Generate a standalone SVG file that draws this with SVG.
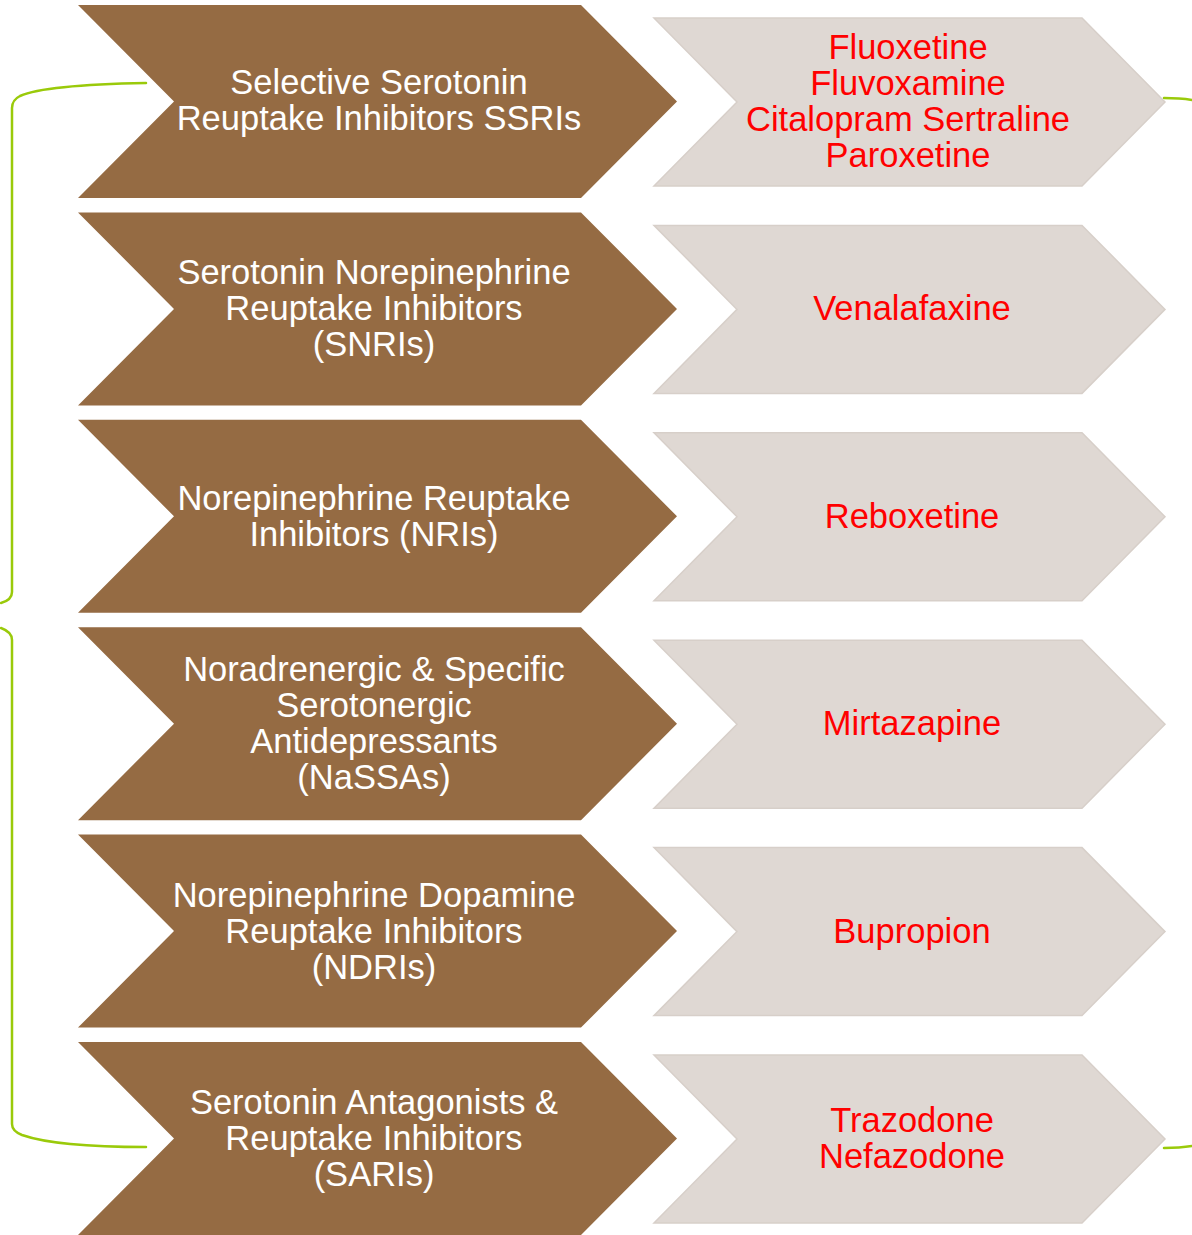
<svg xmlns="http://www.w3.org/2000/svg" width="1192" height="1235" viewBox="0 0 1192 1235">
  <defs>
    <style>
      .cls { fill: #956B43; }
      .drug { fill: #DFD8D3; stroke: #D7CFC9; stroke-width: 1.5; }
      .t { font-family: "Liberation Sans", Arial, sans-serif; font-size: 34.5px; text-anchor: middle; }
      .w { fill: #FFFFFF; }
      .r { fill: #FF0000; }
      .brace { fill: none; stroke: #9ACA0A; stroke-width: 2.5; stroke-linecap: round; }
    </style>
    <!-- chevron outlines, positioned per row with translate -->
    <polygon id="classShape" points="78,0 581,0 677,96.5 581,193 78,193 174,96.5"/>
    <polygon id="drugShape" points="654,13 1082,13 1165,97 1082,181 654,181 737,97"/>
  </defs>

  <!-- brackets -->
  <g id="connectors">
    <path class="brace" d="M146,83 C90,84 40,87 20,96 Q12,100 12,108 L12,592 Q12,600 1,603"/>
    <path class="brace" d="M1,628 Q12,632 12,640 L12,1124 Q12,1131 22,1135 C45,1143 90,1147 146,1147"/>
    <path class="brace" d="M1164,98 Q1180,98 1192,100"/>
    <path class="brace" d="M1164,1148 Q1180,1148 1192,1146"/>
  </g>

  <!-- row 1: SSRIs -->
  <g id="ssri">
    <use href="#classShape" class="cls" transform="translate(0,5)"/>
    <text class="t w" x="379" y="94">Selective Serotonin</text>
    <text class="t w" x="379" y="130">Reuptake Inhibitors SSRIs</text>
  </g>
  <g id="ssri-drugs">
    <use href="#drugShape" class="drug" transform="translate(0,5)"/>
    <text class="t r" x="908" y="59">Fluoxetine</text>
    <text class="t r" x="908" y="95">Fluvoxamine</text>
    <text class="t r" x="908" y="131">Citalopram Sertraline</text>
    <text class="t r" x="908" y="167">Paroxetine</text>
  </g>

  <!-- row 2: SNRIs -->
  <g id="snri">
    <use href="#classShape" class="cls" transform="translate(0,212.4)"/>
    <text class="t w" x="374" y="284">Serotonin Norepinephrine</text>
    <text class="t w" x="374" y="320">Reuptake Inhibitors</text>
    <text class="t w" x="374" y="356">(SNRIs)</text>
  </g>
  <g id="snri-drugs">
    <use href="#drugShape" class="drug" transform="translate(0,212.4)"/>
    <text class="t r" x="912" y="320">Venalafaxine</text>
  </g>

  <!-- row 3: NRIs -->
  <g id="nri">
    <use href="#classShape" class="cls" transform="translate(0,419.8)"/>
    <text class="t w" x="374" y="510">Norepinephrine Reuptake</text>
    <text class="t w" x="374" y="546">Inhibitors (NRIs)</text>
  </g>
  <g id="nri-drugs">
    <use href="#drugShape" class="drug" transform="translate(0,419.8)"/>
    <text class="t r" x="912" y="528">Reboxetine</text>
  </g>

  <!-- row 4: NaSSAs -->
  <g id="nassa">
    <use href="#classShape" class="cls" transform="translate(0,627.2)"/>
    <text class="t w" x="374" y="681">Noradrenergic &amp; Specific</text>
    <text class="t w" x="374" y="717">Serotonergic</text>
    <text class="t w" x="374" y="753">Antidepressants</text>
    <text class="t w" x="374" y="789">(NaSSAs)</text>
  </g>
  <g id="nassa-drugs">
    <use href="#drugShape" class="drug" transform="translate(0,627.2)"/>
    <text class="t r" x="912" y="735">Mirtazapine</text>
  </g>

  <!-- row 5: NDRIs -->
  <g id="ndri">
    <use href="#classShape" class="cls" transform="translate(0,834.6)"/>
    <text class="t w" x="374" y="907">Norepinephrine Dopamine</text>
    <text class="t w" x="374" y="943">Reuptake Inhibitors</text>
    <text class="t w" x="374" y="979">(NDRIs)</text>
  </g>
  <g id="ndri-drugs">
    <use href="#drugShape" class="drug" transform="translate(0,834.6)"/>
    <text class="t r" x="912" y="943">Bupropion</text>
  </g>

  <!-- row 6: SARIs -->
  <g id="sari">
    <use href="#classShape" class="cls" transform="translate(0,1042)"/>
    <text class="t w" x="374" y="1114">Serotonin Antagonists &amp;</text>
    <text class="t w" x="374" y="1150">Reuptake Inhibitors</text>
    <text class="t w" x="374" y="1186">(SARIs)</text>
  </g>
  <g id="sari-drugs">
    <use href="#drugShape" class="drug" transform="translate(0,1042)"/>
    <text class="t r" x="912" y="1132">Trazodone</text>
    <text class="t r" x="912" y="1168">Nefazodone</text>
  </g>
</svg>
